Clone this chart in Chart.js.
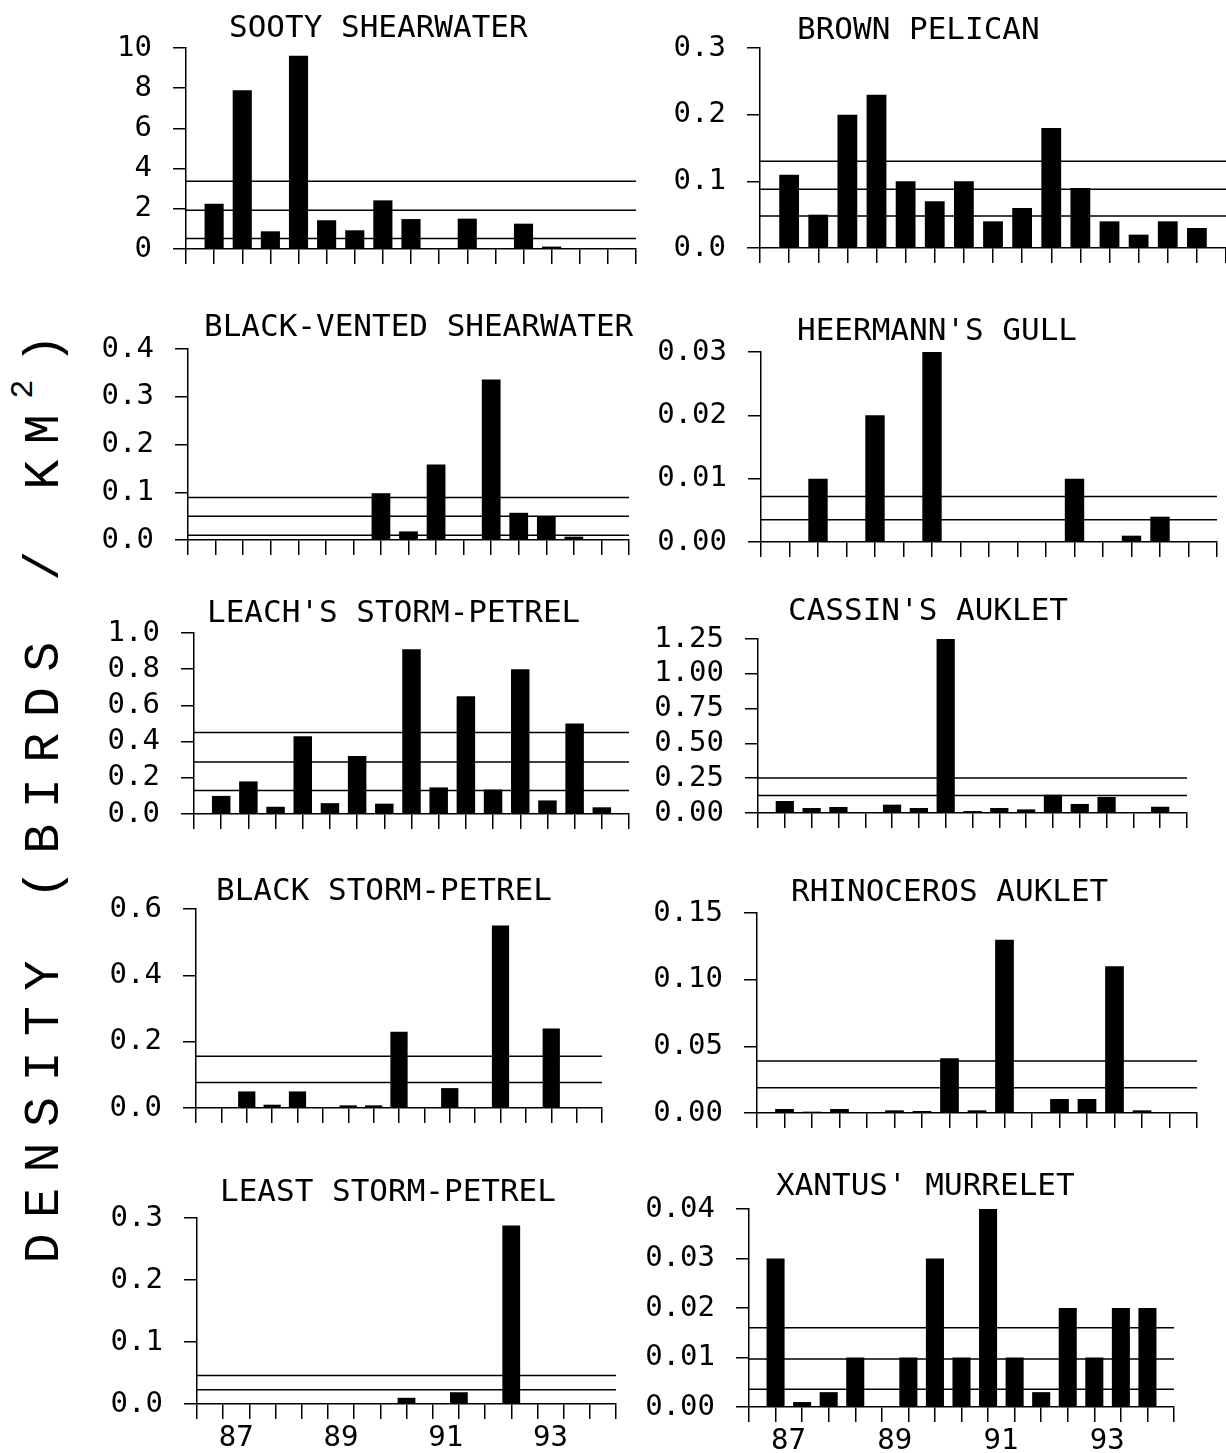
<!DOCTYPE html>
<html>
<head>
<meta charset="utf-8">
<script src="https://cdn.jsdelivr.net/npm/chart.js@4.4.1/dist/chart.umd.min.js"></script>
<style>
html,body{margin:0;padding:0;background:#fff;width:1226px;height:1453px;overflow:hidden;}
#page{position:relative;width:1226px;height:1453px;overflow:hidden;}
canvas{position:absolute;}
#ylabel{position:absolute;left:-455px;top:761px;width:1000px;height:60px;line-height:60px;text-align:center;
  transform:rotate(-90deg);font-family:"Liberation Mono",monospace;font-size:50px;letter-spacing:15.5px;color:#000;white-space:nowrap;}
#ylabel sup{font-size:32px;vertical-align:26px;line-height:0;}
</style>
</head>
<body>
<div id="page">
  <div id="ylabel">DENSITY (BIRDS / KM<sup>2</sup>)</div>
</div>
<script>
// ---------- DATA ----------
const cruises = [1,2,3,4,5,6,7,8,9,10,11,12,13,14,15];
const yearTickValues = [1,5,9,13];
const yearLabels = ['87','89','91','93'];

const titles = ["SOOTY SHEARWATER","BROWN PELICAN","BLACK-VENTED SHEARWATER","HEERMANN'S GULL",
  "LEACH'S STORM-PETREL","CASSIN'S AUKLET","BLACK STORM-PETREL","RHINOCEROS AUKLET",
  "LEAST STORM-PETREL","XANTUS' MURRELET"];

const sooty    = [2.25, 7.9, 0.88, 9.62, 1.43, 0.93, 2.42, 1.49, 0, 1.51, 0.05, 1.26, 0.12, 0.04, 0.03];
const pelican  = [0.11, 0.05, 0.20, 0.23, 0.10, 0.07, 0.10, 0.04, 0.06, 0.18, 0.09, 0.04, 0.02, 0.04, 0.03];
const blackVented = [0, 0, 0, 0, 0, 0, 0.098, 0.018, 0.158, 0, 0.336, 0.057, 0.05, 0.007, 0.002];
const heermann = [0, 0.01, 0, 0.02, 0, 0.03, 0, 0, 0, 0, 0.01, 0, 0.001, 0.004, 0];
const leach    = [0.10, 0.18, 0.04, 0.43, 0.06, 0.32, 0.057, 0.91, 0.147, 0.65, 0.135, 0.80, 0.075, 0.50, 0.037];
const cassin   = [0.086, 0.036, 0.043, 0, 0.06, 0.036, 1.25, 0.014, 0.036, 0.026, 0.131, 0.065, 0.115, 0.007, 0.045];
const blackStorm = [0, 0.05, 0.01, 0.05, 0, 0.008, 0.008, 0.23, 0, 0.06, 0, 0.55, 0, 0.24, 0];
const rhino    = [0.003, 0.001, 0.003, 0, 0.002, 0.0015, 0.041, 0.002, 0.13, 0, 0.0105, 0.0105, 0.11, 0.002, 0];
const least    = [0, 0, 0, 0, 0, 0, 0.0005, 0.01, 0, 0.019, 0.001, 0.288, 0.001, 0.0005, 0];
const xantus   = [0.03, 0.001, 0.003, 0.01, 0, 0.01, 0.03, 0.01, 0.04, 0.01, 0.003, 0.02, 0.01, 0.02, 0.02];

const sootyRef    = [3.37, 1.93, 0.52];
const pelicanRef  = [0.13, 0.088, 0.048];
const blackVentedRef = [0.089, 0.05, 0.01];
const heermannRef = [0.0072, 0.0035];
const leachRef    = [0.45, 0.287, 0.13];
const cassinRef   = [0.252, 0.126];
const blackStormRef = [0.156, 0.077];
const rhinoRef    = [0.039, 0.019];
const leastRef    = [0.046, 0.023];
const xantusRef   = [0.016, 0.0097, 0.0036];

const yMax   = [10, 0.3, 0.4, 0.03, 1.0, 1.25, 0.6, 0.15, 0.3, 0.04];
const yStep  = [2, 0.1, 0.1, 0.01, 0.2, 0.25, 0.2, 0.05, 0.1, 0.01];
const yDecimals = [0, 1, 1, 2, 1, 2, 1, 2, 1, 2];

const series = [sooty, pelican, blackVented, heermann, leach, cassin, blackStorm, rhino, least, xantus];
const refs = [sootyRef, pelicanRef, blackVentedRef, heermannRef, leachRef, cassinRef, blackStormRef, rhinoRef, leastRef, xantusRef];

// ---------- LAYOUT (page pixels) ----------
const layout = [
  {ax0:186, ax1:636,  yTop:48,   yBase:249,  tx:229, ty:29},
  {ax0:760, ax1:1226, yTop:48,   yBase:248,  tx:797, ty:31},
  {ax0:188, ax1:629,  yTop:349,  yBase:540,  tx:204, ty:328},
  {ax0:761, ax1:1217, yTop:352,  yBase:542,  tx:797, ty:332},
  {ax0:194, ax1:629,  yTop:633,  yBase:814,  tx:207, ty:614},
  {ax0:758, ax1:1187, yTop:639,  yBase:813,  tx:788, ty:612},
  {ax0:196, ax1:602,  yTop:909,  yBase:1108, tx:216, ty:892},
  {ax0:757, ax1:1197, yTop:913,  yBase:1113, tx:791, ty:893},
  {ax0:197, ax1:616,  yTop:1218, yBase:1404, tx:220, ty:1193},
  {ax0:749, ax1:1174, yTop:1209, yBase:1407, tx:776, ty:1187}
];
const LEFTW = 120, RPAD = 10, TOPPAD = 52, BOTH = 50;
const FONT = 'DejaVu Sans Mono';

const panelTitle = {
  id: 'panelTitle',
  afterDraw(chart, args, opts) {
    const ctx = chart.ctx;
    ctx.save();
    ctx.font = opts.size + 'px "' + FONT + '"';
    ctx.fillStyle = '#000';
    ctx.textAlign = 'left';
    ctx.textBaseline = 'middle';
    ctx.fillText(opts.text, opts.x, opts.y);
    ctx.restore();
  }
};

const page = document.getElementById('page');
series.forEach((vals, i) => {
  const L = layout[i];
  const left = Math.round(L.ax0) - LEFTW;
  const top = Math.round(L.yTop) - TOPPAD;
  const w = Math.round(L.ax1 - L.ax0) + LEFTW + RPAD;
  const h = Math.round(L.yBase - L.yTop) + TOPPAD + BOTH;
  const cv = document.createElement('canvas');
  cv.width = w; cv.height = h;
  cv.style.left = left + 'px'; cv.style.top = top + 'px';
  cv.style.width = w + 'px'; cv.style.height = h + 'px';
  page.appendChild(cv);
  const bottomRow = i >= 8;

  const datasets = [{
    type: 'bar',
    data: vals.map((v, k) => ({x: cruises[k], y: v})),
    backgroundColor: '#000',
    borderWidth: 0,
    barPercentage: 0.68,
    categoryPercentage: 1
  }];
  refs[i].forEach(r => datasets.push({
    type: 'line',
    data: [{x: 0, y: r}, {x: 16, y: r}],
    borderColor: '#000',
    borderWidth: 1.5,
    pointRadius: 0,
    fill: false,
    tension: 0
  }));

  new Chart(cv, {
    type: 'bar',
    data: {datasets},
    plugins: [panelTitle],
    options: {
      responsive: false,
      animation: false,
      devicePixelRatio: 1,
      layout: {padding: {left: 0, right: RPAD, top: TOPPAD, bottom: 0}},
      plugins: {
        legend: {display: false},
        tooltip: {enabled: false},
        panelTitle: {text: titles[i], x: L.tx - left, y: L.ty - top, size: 31}
      },
      scales: {
        x: {
          type: 'linear', min: 0, max: 16, offset: false,
          ticks: {
            stepSize: 1, autoSkip: false, maxRotation: 0, minRotation: 0,
            labelOffset: 13, padding: 5, color: '#000',
            font: {family: FONT, size: 29, lineHeight: 1},
            callback: (v) => {
              if (!bottomRow) return '';
              const k = yearTickValues.indexOf(v);
              return k >= 0 ? yearLabels[k] : '';
            }
          },
          grid: {drawOnChartArea: false, drawTicks: true, tickLength: 15, color: '#000', lineWidth: 1.5, offset: false},
          border: {display: true, color: '#000', width: 1.5},
          afterFit: (s) => { s.height = BOTH; }
        },
        y: {
          min: 0, max: yMax[i],
          ticks: {
            stepSize: yStep[i], autoSkip: false, padding: 21, color: '#000',
            font: {family: FONT, size: 29, lineHeight: 1},
            callback: (v) => Number(v).toFixed(yDecimals[i])
          },
          grid: {drawOnChartArea: false, drawTicks: true, tickLength: 13, color: '#000', lineWidth: 1.5},
          border: {display: true, color: '#000', width: 1.5},
          afterFit: (s) => { s.width = LEFTW; }
        }
      }
    }
  });
});
</script>
</body>
</html>
